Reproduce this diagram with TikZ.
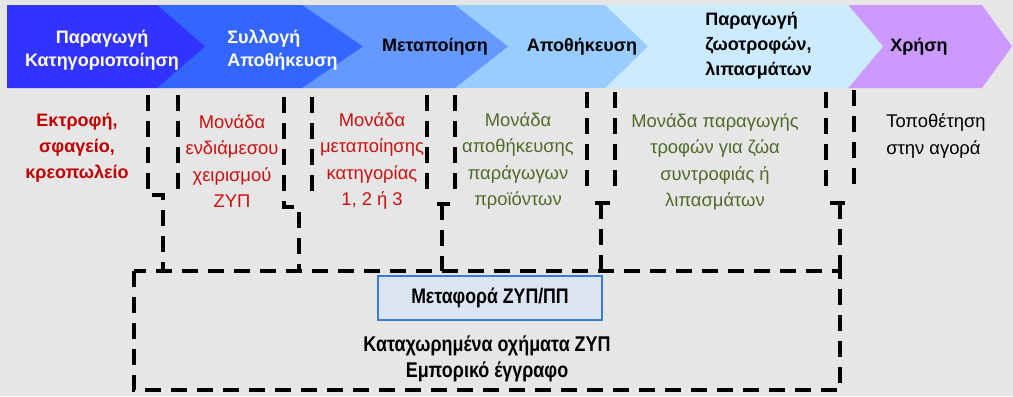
\documentclass[tikz,border=0pt]{standalone}
\usepackage{fontspec}
\setmainfont{Liberation Sans}
\newfontfamily\narrowfont[FakeStretch=0.84]{Liberation Sans}

\definecolor{bggray}{HTML}{E6E6E6}
\definecolor{chevA}{HTML}{3333FF}
\definecolor{chevB}{HTML}{3366FF}
\definecolor{chevC}{HTML}{6699FF}
\definecolor{chevD}{HTML}{99CCFF}
\definecolor{chevE}{HTML}{CCEBFF}
\definecolor{chevF}{HTML}{CC99FF}
\definecolor{redA}{HTML}{C00000}
\definecolor{redB}{HTML}{CC1010}
\definecolor{olive}{HTML}{4F6B2A}
\definecolor{boxfill}{HTML}{DCE6F2}
\definecolor{boxline}{HTML}{3A7BD5}

\begin{document}
\begin{tikzpicture}[x=0.75pt,y=-0.75pt,
  bnd/.style={line width=2.4pt, dash pattern=on 12pt off 7.5pt},
  stage/.style={font=\bfseries\fontsize{13.5}{17}\selectfont, inner sep=0pt},
  site/.style={font=\fontsize{13.8}{19.8}\selectfont, inner sep=0pt, align=center}]

\fill[bggray] (0,0) rectangle (1013,396);

%% chevrons, back to front
\fill[chevF] (848,5) -- (982,5) -- (1012,46.5) -- (982,88) -- (848,88) -- (883,46.5) -- cycle;
\fill[chevE] (605,5) -- (848,5) -- (883,46.5) -- (848,88) -- (605,88) -- cycle;
\fill[chevD] (455,5) -- (605,5) -- (648,46.5) -- (605,88) -- (455,88) -- cycle;
\fill[chevC] (302,5) -- (455,5) -- (508,46.5) -- (455,88) -- (302,88) -- cycle;
\fill[chevB] (157,5) -- (302,5) -- (363,46.5) -- (302,88) -- (157,88) -- cycle;
\fill[chevA] (7,5) -- (157,5) -- (205,46.5) -- (157,88) -- (7,88) -- cycle;

\node[stage, white, align=center] (prod) at (102,50) {Παραγωγή\\Κατηγοριοποίηση};
\node[stage, white, align=left, anchor=west] (coll) at (227,50) {Συλλογή\\Αποθήκευση};
\node[stage] (proc) at (435,47) {Μεταποίηση};
\node[stage] (stor) at (582,47) {Αποθήκευση};
\node[stage, align=left, anchor=west, font=\bfseries\fontsize{13.5}{18.75}\selectfont] (feed) at (705,46) {Παραγωγή\\ζωοτροφών,\\λιπασμάτων};
\node[stage] (use) at (919,47) {Χρήση};

%% sites
\node[site, redA, font=\bfseries\fontsize{13.5}{19.5}\selectfont] (farm) at (77,148) {Εκτροφή,\\σφαγείο,\\κρεοπωλείο};
\node[site, redB] (inter) at (232,161) {Μονάδα\\ενδιάμεσου\\χειρισμού\\ΖΥΠ};
\node[site, redB] (plant) at (372,161) {Μονάδα\\μεταποίησης\\κατηγορίας\\1, 2 ή 3};
\node[site, olive] (depot) at (518,161) {Μονάδα\\αποθήκευσης\\παράγωγων\\προϊόντων};
\node[site, olive] (petfood) at (715,162) {Μονάδα παραγωγής\\τροφών για ζώα\\συντροφιάς ή\\λιπασμάτων};
\node[site, align=left, anchor=west] (market) at (886,136) {Τοποθέτηση\\στην αγορά};

%% boundaries
\draw[bnd] (148,95) -- (148,195) -- (163,195) -- (163,271);
\draw[bnd] (178,95) -- (178,196);
\draw[bnd] (284,97) -- (284,207) -- (299,207) -- (299,271);
\draw[bnd] (312,97) -- (312,197);
\draw[bnd] (427,95) -- (427,193);
\draw[bnd] (455,95) -- (455,195);
\draw[bnd] (437,204) -- (450,204);
\draw[bnd] (442,204) -- (442,271);
\draw[bnd] (587,92) -- (587,190);
\draw[bnd] (615,92) -- (615,190);
\draw[bnd] (595,203) -- (610,203);
\draw[bnd] (601,203) -- (601,271);
\draw[bnd] (826,92) -- (826,190);
\draw[bnd] (854,90) -- (854,190);
\draw[bnd] (830,203) -- (845,203);
\draw[bnd] (840,203) -- (840,271);

%% transport
\draw[bnd] (134,271) rectangle (840,390);
\node[draw=boxline, fill=boxfill, line width=1.2pt, minimum width=224*0.75pt, minimum height=44*0.75pt,
  font=\narrowfont\bfseries\fontsize{15.8}{19}\selectfont] (trans) at (490,298) {Μεταφορά ΖΥΠ/ΠΠ};
\node[font=\narrowfont\bfseries\fontsize{16}{19}\selectfont, align=center, inner sep=0pt] (docs) at (487,359) {Καταχωρημένα οχήματα ΖΥΠ\\Εμπορικό έγγραφο};

\end{tikzpicture}
\end{document}
